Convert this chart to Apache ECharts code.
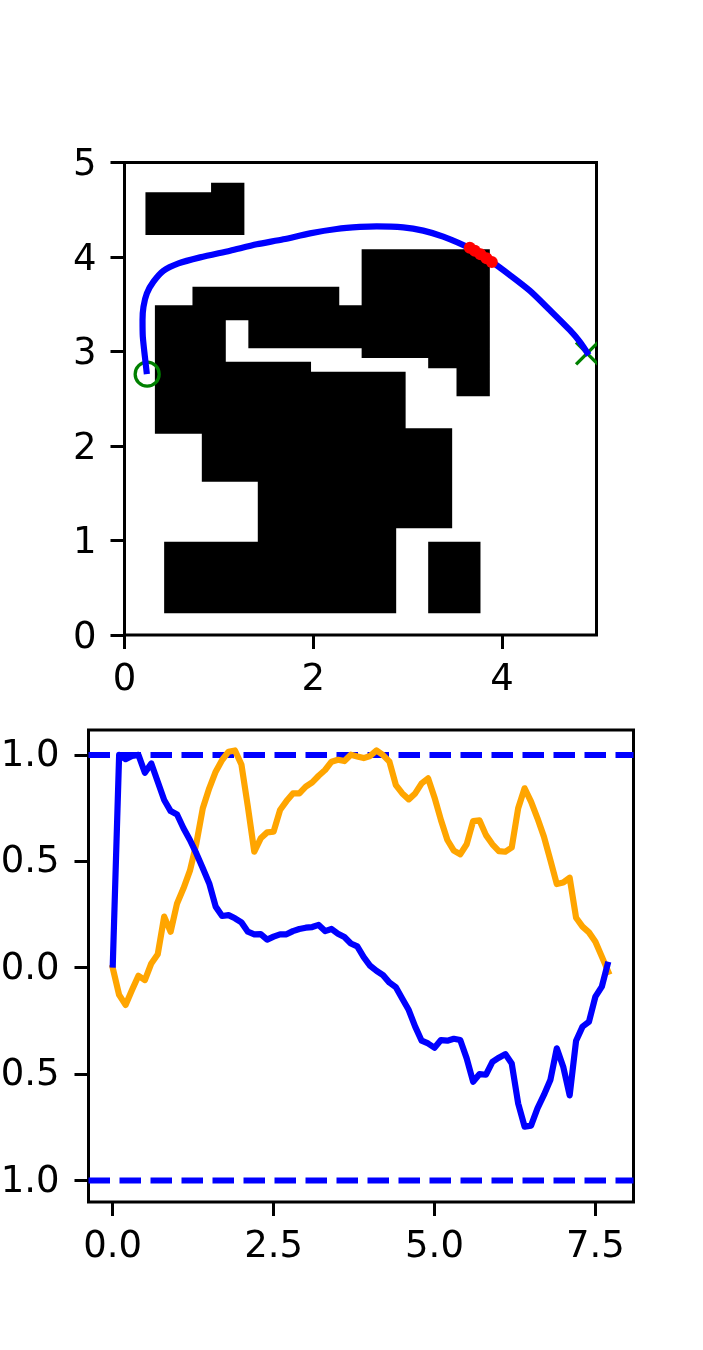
<!DOCTYPE html>
<html>
<head>
<meta charset="utf-8">
<style>
html, body { margin: 0; padding: 0; background: #fff; }
#chart { width: 703px; height: 1350px; }
</style>
<script src="https://cdn.jsdelivr.net/npm/echarts@6/dist/echarts.min.js"></script>
</head>
<body>
<div id="chart"></div>
<script>
// top plot: map, path
var mapBlocks = [
    [[0.222,4.233],[1.27,4.233],[1.27,4.786],[0.917,4.786],[0.917,4.685],[0.222,4.685]],
    [[0.322,3.489],[0.72,3.489],[0.72,3.686],[2.275,3.686],[2.275,3.489],[2.512,3.489],[2.512,4.081],[3.87,4.081],
     [3.87,2.526],[3.517,2.526],[3.517,2.822],[3.217,2.822],[3.217,2.931],[2.512,2.931],[2.512,3.034],[1.312,3.034],
     [1.312,3.33],[1.073,3.33],[1.073,2.892],[1.976,2.892],[1.976,2.786],[2.978,2.786],[2.978,2.187],[3.471,2.187],
     [3.471,1.129],[2.878,1.129],[2.878,0.23],[0.42,0.23],[0.42,0.987],[1.412,0.987],[1.412,1.622],[0.819,1.622],
     [0.819,2.13],[0.322,2.13]],
    [[3.217,0.23],[3.771,0.23],[3.771,0.987],[3.217,0.987]]
];
var pathPoints = [
    [0.237,2.76],[0.216,2.945],[0.194,3.157],[0.191,3.333],[0.201,3.474],[0.237,3.616],[0.307,3.739],[0.413,3.855],
    [0.572,3.933],[0.801,3.996],[1.119,4.067],[1.401,4.134],[1.683,4.187],[1.965,4.25],[2.247,4.296],[2.494,4.318],
    [2.671,4.325],[2.953,4.314],[3.164,4.279],[3.376,4.215],[3.658,4.092],[3.888,3.951],[4.081,3.81],[4.293,3.644],
    [4.505,3.439],[4.716,3.228],[4.822,3.104],[4.918,2.963]
];
var redPoints = [[3.658,4.099],[3.711,4.067],[3.771,4.028],[3.835,3.986],[3.891,3.947]];
var startPoint = [0.24,2.76];
var goalPoint = [4.9,2.98];
var topXTicks = [0,2,4];
var topYTicks = [0,1,2,3,4,5];

// bottom plot: two curves and limits
var timeValues = [0,0.1,0.2,0.3,0.4,0.5,0.6,0.7,0.8,0.9,1,1.1,1.2,1.3,1.4,1.5,1.6,1.7,1.8,1.9,
    2,2.1,2.2,2.3,2.4,2.5,2.6,2.7,2.8,2.9,3,3.1,3.2,3.3,3.4,3.5,3.6,3.7,3.8,3.9,
    4,4.1,4.2,4.3,4.4,4.5,4.6,4.7,4.8,4.9,5,5.1,5.2,5.3,5.4,5.5,5.6,5.7,5.8,5.9,
    6,6.1,6.2,6.3,6.4,6.5,6.6,6.7,6.8,6.9,7,7.1,7.2,7.3,7.4,7.5,7.6,7.7];
var blueValues = [0,1,0.98,0.995,1,0.916,0.96,0.874,0.788,0.736,0.72,0.655,0.6,0.537,0.467,0.396,0.287,0.243,0.247,0.232,
    0.213,0.169,0.157,0.158,0.132,0.146,0.157,0.157,0.172,0.182,0.188,0.191,0.201,0.172,0.182,0.16,0.144,0.114,0.1,0.05,
    0.009,-0.015,-0.035,-0.07,-0.092,-0.146,-0.199,-0.277,-0.343,-0.356,-0.376,-0.34,-0.343,-0.334,-0.34,-0.426,-0.536,-0.5,-0.503,-0.442,
    -0.423,-0.406,-0.45,-0.638,-0.747,-0.742,-0.661,-0.598,-0.528,-0.379,-0.465,-0.6,-0.343,-0.277,-0.254,-0.136,-0.089,0.028];
var orangeValues = [0,-0.128,-0.175,-0.105,-0.038,-0.058,0.02,0.063,0.24,0.169,0.302,0.373,0.456,0.584,0.749,0.843,0.921,0.976,1.015,1.021,
    0.955,0.757,0.545,0.608,0.636,0.639,0.741,0.783,0.819,0.819,0.851,0.871,0.902,0.929,0.968,0.977,0.971,1.001,0.993,0.985,
    0.995,1.021,0.999,0.968,0.858,0.819,0.791,0.819,0.866,0.89,0.8,0.694,0.6,0.55,0.533,0.58,0.689,0.692,0.623,0.58,
    0.548,0.545,0.565,0.749,0.843,0.78,0.702,0.616,0.506,0.393,0.4,0.423,0.235,0.193,0.166,0.122,0.052,-0.019];
var limitValues = [1,-1];
var bottomXTicks = [0,2.5,5,7.5];
var bottomYTicks = [-1,-0.5,0,0.5,1];

var xMinB = -0.376, xMaxB = 8.092;

var labelFont = { color: '#000', fontFamily: 'DejaVu Sans', fontSize: 37 };

function zip(xs, ys) {
    return xs.map(function (x, i) { return [x, ys[i]]; });
}

function fixed1(v) {
    return (v < 0 ? '\u2212' : '') + Math.abs(v).toFixed(1);
}

function makeAxis(idx, pos, min, max, ticks, margin, fmt, extra) {
    return {
        type: 'value', gridIndex: idx, position: pos, min: min, max: max,
        splitLine: { show: false },
        axisLine: { show: false, onZero: false },
        axisTick: { show: true, length: 14, customValues: ticks, lineStyle: { color: '#000', width: 3 } },
        axisLabel: Object.assign({ show: true, margin: margin, customValues: ticks, formatter: fmt, showMinLabel: true, showMaxLabel: true }, labelFont, extra)
    };
}

var chart = echarts.init(document.getElementById('chart'), null, { renderer: 'canvas' });

var option = {
    animation: false,
    backgroundColor: '#fff',
    grid: [
        { left: 124.5, top: 162.5, width: 472, height: 472.5, show: true, borderColor: '#000', borderWidth: 3, backgroundColor: 'transparent', outerBoundsMode: 'none' },
        { left: 88.5, top: 730, width: 545, height: 472, show: true, borderColor: '#000', borderWidth: 3, backgroundColor: 'transparent', outerBoundsMode: 'none' }
    ],
    xAxis: [
        makeAxis(0, 'bottom', 0, 5, topXTicks, 27, function (v) { return String(v); }),
        makeAxis(1, 'bottom', xMinB, xMaxB, bottomXTicks, 27, fixed1)
    ],
    yAxis: [
        makeAxis(0, 'left', 0, 5, topYTicks, 28, function (v) { return String(v); }, { verticalAlign: 'top', lineHeight: 6 }),
        makeAxis(1, 'left', -1.101, 1.117, bottomYTicks, 29, fixed1, { verticalAlign: 'top', lineHeight: 3 })
    ],
    series: [
        {
            type: 'custom', xAxisIndex: 0, yAxisIndex: 0, coordinateSystem: 'cartesian2d',
            data: mapBlocks.map(function (b, i) { return [b[0][0], b[0][1], i]; }),
            encode: { x: 0, y: 1 },
            renderItem: function (params, api) {
                return {
                    type: 'polygon',
                    shape: { points: mapBlocks[api.value(2)].map(function (p) { return api.coord(p); }) },
                    style: { fill: '#000' }
                };
            }
        },
        {
            type: 'scatter', xAxisIndex: 0, yAxisIndex: 0,
            data: [startPoint], symbol: 'circle', symbolSize: 24,
            itemStyle: { color: 'rgba(0,0,0,0)', borderColor: '#008000', borderWidth: 3.3, opacity: 1 }
        },
        {
            type: 'custom', xAxisIndex: 0, yAxisIndex: 0, coordinateSystem: 'cartesian2d', clip: true,
            data: [goalPoint],
            encode: { x: 0, y: 1 },
            renderItem: function (params, api) {
                var c = api.coord([api.value(0), api.value(1)]);
                var s = { stroke: '#008000', lineWidth: 3.3 };
                return {
                    type: 'group',
                    children: [
                        { type: 'line', shape: { x1: c[0] - 11, y1: c[1] - 11, x2: c[0] + 11, y2: c[1] + 11 }, style: s },
                        { type: 'line', shape: { x1: c[0] - 11, y1: c[1] + 11, x2: c[0] + 11, y2: c[1] - 11 }, style: s }
                    ]
                };
            }
        },
        {
            type: 'line', xAxisIndex: 0, yAxisIndex: 0, data: pathPoints, showSymbol: false, smooth: 0.25, z: 3,
            lineStyle: { color: '#0000ff', width: 6.2, join: 'round', cap: 'butt' }
        },
        {
            type: 'scatter', xAxisIndex: 0, yAxisIndex: 0, data: redPoints, symbol: 'circle', symbolSize: 12, z: 4,
            itemStyle: { color: '#ff0000', opacity: 1 }
        },
        {
            type: 'line', xAxisIndex: 1, yAxisIndex: 1, showSymbol: false,
            data: [[xMinB, limitValues[0]], [xMaxB, limitValues[0]]],
            lineStyle: { color: '#0000ff', width: 6, type: [21.5, 9.5] }
        },
        {
            type: 'line', xAxisIndex: 1, yAxisIndex: 1, showSymbol: false,
            data: [[xMinB, limitValues[1]], [xMaxB, limitValues[1]]],
            lineStyle: { color: '#0000ff', width: 6, type: [21.5, 9.5] }
        },
        {
            type: 'line', xAxisIndex: 1, yAxisIndex: 1, showSymbol: false,
            data: zip(timeValues, orangeValues),
            lineStyle: { color: '#ffa500', width: 6.2, join: 'round', cap: 'square' }
        },
        {
            type: 'line', xAxisIndex: 1, yAxisIndex: 1, showSymbol: false,
            data: zip(timeValues, blueValues),
            lineStyle: { color: '#0000ff', width: 6.2, join: 'round', cap: 'butt' }
        }
    ]
};
chart.setOption(option);
</script>
</body>
</html>
